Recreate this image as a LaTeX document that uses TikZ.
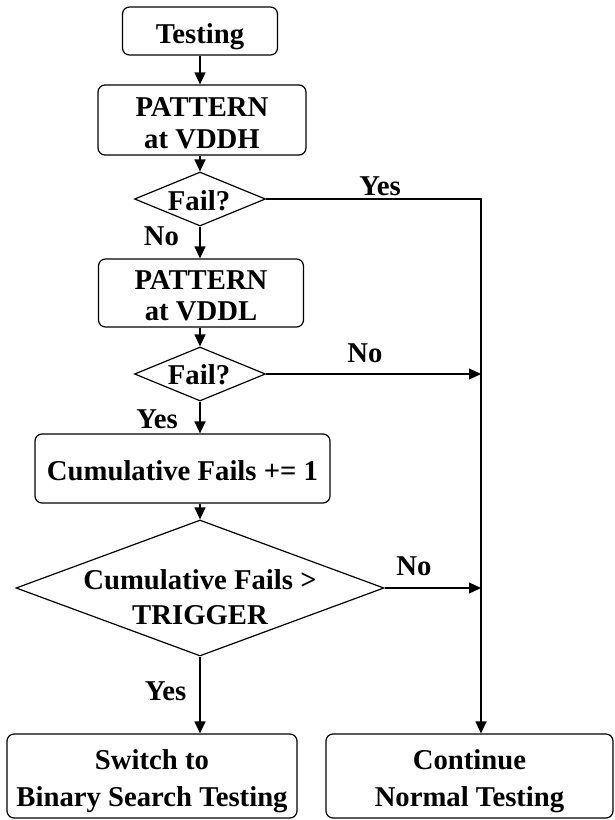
\documentclass[tikz,border=0pt]{standalone}
\usepackage{fontspec}
\setmainfont{Liberation Serif}
\usetikzlibrary{arrows.meta,shapes.geometric}

\begin{document}
\begin{tikzpicture}[x=1pt,y=-1pt,
  every node/.style={font=\bfseries\fontsize{28.7}{32}\selectfont},
  % one line of text: caps sit a little below the middle
  oneline/.style={text height=24.7pt,text depth=0pt},
  % two lines of text with line distance #1
  twoline/.style={font=\bfseries\fontsize{28.7}{#1}\selectfont,
                  text height=#1+24.7pt,text depth=0pt},
  box/.style={draw,rounded corners=7pt,line width=1.2pt,inner sep=0pt,align=center},
  dia/.style={draw,diamond,line width=1.2pt,inner sep=0pt},
  txt/.style={inner sep=0pt,align=center},
  lab/.style={inner sep=0pt,anchor=base},
  flow/.style={line width=1.2pt,-{Triangle[length=12pt,width=11pt]}}]

\useasboundingbox (0,0) rectangle (614,820);

% process boxes and decisions
\node[box,oneline,minimum width=155pt,minimum height=48pt] (test) at (200,31) {Testing};
\node[box,twoline=32pt,minimum width=208pt,minimum height=70pt] (vddh) at (202,120) {PATTERN\\at VDDH};
\node[dia,minimum width=131pt,minimum height=54pt] (f1) at (200,199) {};
\node[txt,oneline] (f1t) at (199,198) {Fail?};
\node[box,twoline=31pt,minimum width=205pt,minimum height=68pt] (vddl) at (201,293) {PATTERN\\at VDDL};
\node[dia,minimum width=131pt,minimum height=54pt] (f2) at (200,374) {};
\node[txt,oneline] (f2t) at (199,372) {Fail?};
\node[box,oneline,minimum width=295pt,minimum height=69pt] (cum) at (182.5,468.5) {Cumulative Fails += 1};
\node[dia,minimum width=368pt,minimum height=136pt] (trig) at (200,588) {};
\node[txt,twoline=35pt] (trigt) at (200,594.7) {Cumulative Fails >\\TRIGGER};
\node[box,twoline=37pt,minimum width=290pt,minimum height=84pt]
  (bin) at (152,776) {Switch to\\Binary Search Testing};
\node[box,twoline=37pt,minimum width=287pt,minimum height=84pt]
  (cont) at (469.5,776) {Continue\\Normal Testing};

% right-hand rail collecting the exits to normal testing
\coordinate (rail) at (481,0);

% main flow
\draw[flow] (test.south) -- (test.south |- vddh.north);
\draw[flow] (f1.north |- vddh.south) -- (f1.north);
\draw[flow] (f1.south) -- (f1.south |- vddl.north);
\draw[flow] (f2.north |- vddl.south) -- (f2.north);
\draw[flow] (f2.south) -- (f2.south |- cum.north);
\draw[flow] (trig.north |- cum.south) -- (trig.north);
\draw[flow] (trig.south) -- (trig.south |- bin.north);

% exits to the rail
\draw[flow] (f1.east) -- (f1.east -| rail) -- (rail |- cont.north);
\draw[flow] (f2.east) -- (f2.east -| rail);
\draw[flow] (trig.east) -- (trig.east -| rail);

% branch labels
\node[lab] (y1) at (380,195) {Yes};
\node[lab] (n1) at (161.5,245) {No};
\node[lab] (n2) at (365,362) {No};
\node[lab] (y2) at (157,428) {Yes};
\node[lab] (n3) at (414,575) {No};
\node[lab] (y3) at (165.5,700) {Yes};
\end{tikzpicture}
\end{document}
